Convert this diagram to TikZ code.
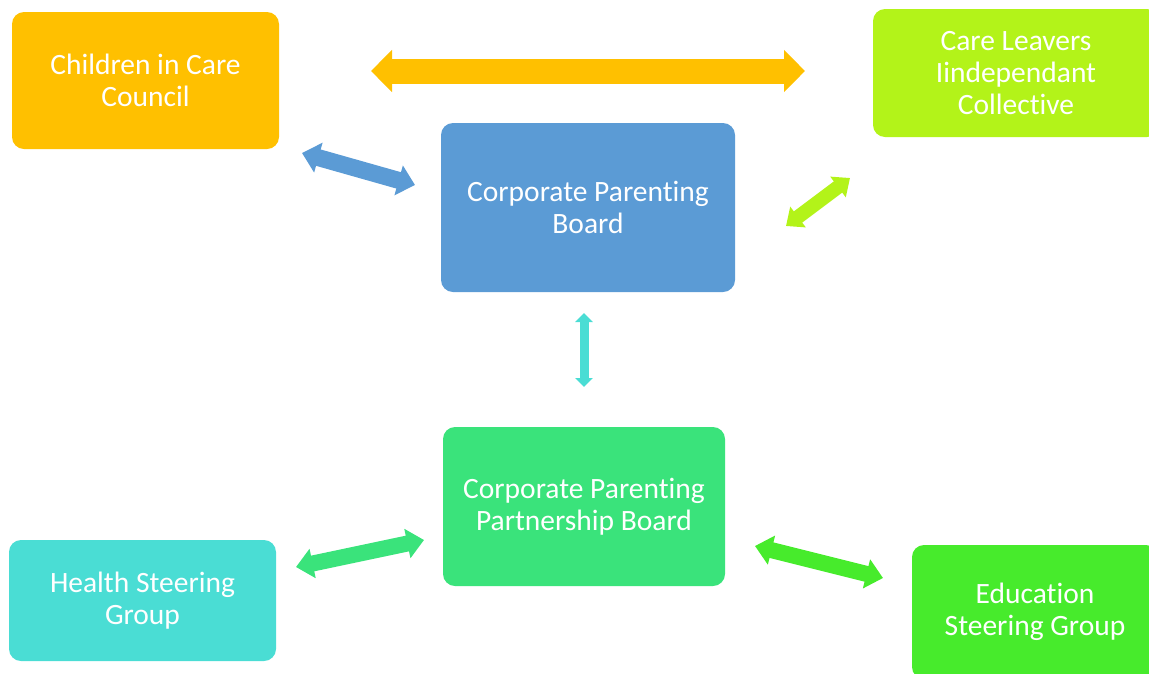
\documentclass[tikz,border=0pt]{standalone}
\usepackage{fontspec}
\setmainfont{Carlito}[Ligatures=NoCommon]
\usetikzlibrary{arrows.meta}
\definecolor{cyellow}{HTML}{FFC000}
\definecolor{cblue}{HTML}{5B9BD5}
\definecolor{clime}{HTML}{B3F319}
\definecolor{cteal}{HTML}{4ADDD4}
\definecolor{cgreen}{HTML}{3AE37B}
\definecolor{cgreenb}{HTML}{47EB2C}
\tikzset{
  box/.style={rounded corners=12pt, draw=none, text=white, align=center,
    font=\fontsize{29.5}{32}\selectfont, inner sep=0pt},
  barrow/.style n args={4}{line width=#1, draw=#4, line cap=butt,
    {Triangle[length=#2, width=#3]}-{Triangle[length=#2, width=#3]}},
}
\begin{document}
\begin{tikzpicture}[x=1pt,y=-1pt]
\useasboundingbox (0,0) rectangle (1149,673);
\clip (0,0) rectangle (1149,673);
% boxes
\node[box, fill=cyellow, minimum width=267pt, minimum height=137pt] (cicc) at (145.5,80.5) {Children in Care\\Council};
\node[box, fill=clime, minimum width=286pt, minimum height=128pt] (clic) at (1016,73) {Care Leavers\\Iindependant\\Collective};
\node[box, fill=cblue, minimum width=294pt, minimum height=169pt] (cpb) at (588,207.5) {Corporate Parenting\\Board};
\node[box, fill=cgreen, minimum width=282pt, minimum height=159pt] (cppb) at (584,506.5) {Corporate Parenting\\Partnership Board};
\node[box, fill=cteal, minimum width=267pt, minimum height=121pt] (hsg) at (142.5,600.5) {Health Steering\\Group};
\node[box, fill=cgreenb, minimum width=246pt, minimum height=134pt] (esg) at (1035,612) {Education\\Steering Group};
% arrow end points
\coordinate (y1) at (371,71);  \coordinate (y2) at (805,71);
\coordinate (b1) at (302,153); \coordinate (b2) at (415,185);
\coordinate (l1) at (786,226); \coordinate (l2) at (850,178);
\coordinate (t1) at (584,313); \coordinate (t2) at (584,387);
\coordinate (g1) at (296,567); \coordinate (g2) at (424,540);
\coordinate (e1) at (755,546); \coordinate (e2) at (883,578);
% arrows
\draw[barrow={25pt}{21pt}{41pt}{cyellow}] (y1) -- (y2);
\draw[barrow={17pt}{17pt}{30pt}{cblue}] (b1) -- (b2);
\draw[barrow={14pt}{15pt}{25pt}{clime}] (l1) -- (l2);
\draw[barrow={9pt}{9pt}{17pt}{cteal}] (t1) -- (t2);
\draw[barrow={16pt}{17pt}{29pt}{cgreen}] (g1) -- (g2);
\draw[barrow={16pt}{17pt}{29pt}{cgreenb}] (e1) -- (e2);
\end{tikzpicture}
\end{document}
